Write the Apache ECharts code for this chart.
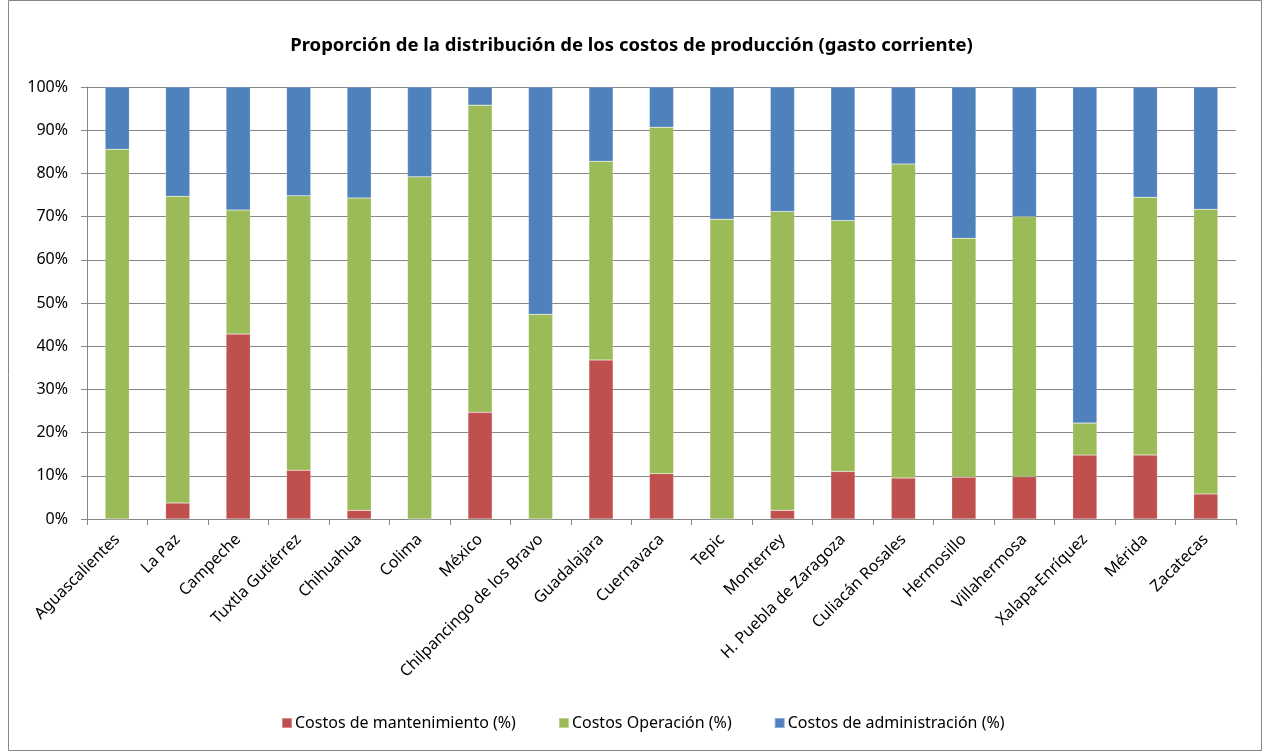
<!DOCTYPE html>
<html>
<head>
<meta charset="utf-8">
<script src="https://cdn.jsdelivr.net/npm/echarts@6/dist/echarts.min.js"></script>
<style>
  html, body { margin: 0; padding: 0; background: #fff; }
  #chart { width: 1263px; height: 752px; }
</style>
</head>
<body>
<div id="chart"></div>
<script>
// ciudades
const categories = [
  'Aguascalientes', 'La Paz', 'Campeche', 'Tuxtla Gutiérrez', 'Chihuahua', 'Colima',
  'México', 'Chilpancingo de los Bravo', 'Guadalajara', 'Cuernavaca', 'Tepic', 'Monterrey',
  'H. Puebla de Zaragoza', 'Culiacán Rosales', 'Hermosillo', 'Villahermosa',
  'Xalapa-Enríquez', 'Mérida', 'Zacatecas'
]

// porcentajes
const mantenimiento = [0, 3.7, 42.8, 11.3, 2.0, 0, 24.7, 0, 36.8, 10.5, 0, 2.0, 11.0, 9.5, 9.7, 9.8, 14.8, 14.8, 5.8]
const operacion = [85.6, 71.0, 28.7, 63.5, 72.3, 79.2, 71.1, 47.4, 46.0, 80.2, 69.4, 69.2, 58.1, 72.7, 55.3, 60.2, 7.4, 59.7, 65.9]
const administracion = [14.4, 25.3, 28.5, 25.2, 25.7, 20.8, 4.2, 52.6, 17.2, 9.3, 30.6, 28.8, 30.9, 17.8, 35.0, 30.0, 77.8, 25.5, 28.3]

const yTicks = [0, 10, 20, 30, 40, 50, 60, 70, 80, 90, 100]

const font = 'Noto Sans'
const chart = echarts.init(document.getElementById('chart'))

const barSeries = (name, data, color) => ({
  name,
  type: 'bar',
  stack: 'total',
  data,
  barWidth: '40%',
  itemStyle: { color, borderColor: 'rgba(255,255,255,0.35)', borderWidth: 0.5 }
})

chart.setOption({
  backgroundColor: '#fff',
  animation: false,
  title: {
    text: 'Proporción de la distribución de los costos de producción (gasto corriente)',
    left: 'center',
    top: 31,
    textStyle: { fontFamily: font, fontSize: 18.5, fontWeight: 'bold', color: '#000' }
  },
  graphic: [{
    type: 'rect',
    shape: { x: 8.5, y: 0.5, width: 1253, height: 750 },
    style: { fill: 'none', stroke: '#868686', lineWidth: 1 },
    silent: true
  }],
  legend: {
    top: 710,
    left: 276,
    itemWidth: 10,
    itemHeight: 10,
    itemGap: 42,
    icon: 'rect',
    textStyle: { fontFamily: font, fontSize: 16, color: '#000', padding: [0, 0, 0, -2] },
    data: ['Costos de mantenimiento (%)', 'Costos Operación (%)', 'Costos de administración (%)']
  },
  grid: { left: 87, right: 27, top: 87, bottom: 233 },
  xAxis: {
    type: 'category',
    data: categories,
    axisLine: { lineStyle: { color: '#868686' } },
    axisTick: { show: true, alignWithLabel: false, length: 6, lineStyle: { color: '#868686' } },
    axisLabel: {
      interval: 0,
      rotate: 45,
      fontFamily: font,
      fontSize: 16,
      color: '#000',
      margin: 18
    }
  },
  yAxis: {
    type: 'value',
    min: 0,
    max: 100,
    interval: 10,
    axisLine: { show: true, lineStyle: { color: '#868686' } },
    axisTick: { show: true, length: 6, lineStyle: { color: '#868686' } },
    axisLabel: {
      fontFamily: font,
      fontSize: 16,
      color: '#000',
      margin: 19,
      formatter: v => yTicks.includes(v) ? v + '%' : ''
    },
    splitLine: { lineStyle: { color: '#868686', width: 1 } }
  },
  series: [
    barSeries('Costos de mantenimiento (%)', mantenimiento, '#C0504D'),
    barSeries('Costos Operación (%)', operacion, '#9BBB59'),
    barSeries('Costos de administración (%)', administracion, '#4F81BD')
  ]
})

window.addEventListener('resize', () => chart.resize())
</script>
</body>
</html>
